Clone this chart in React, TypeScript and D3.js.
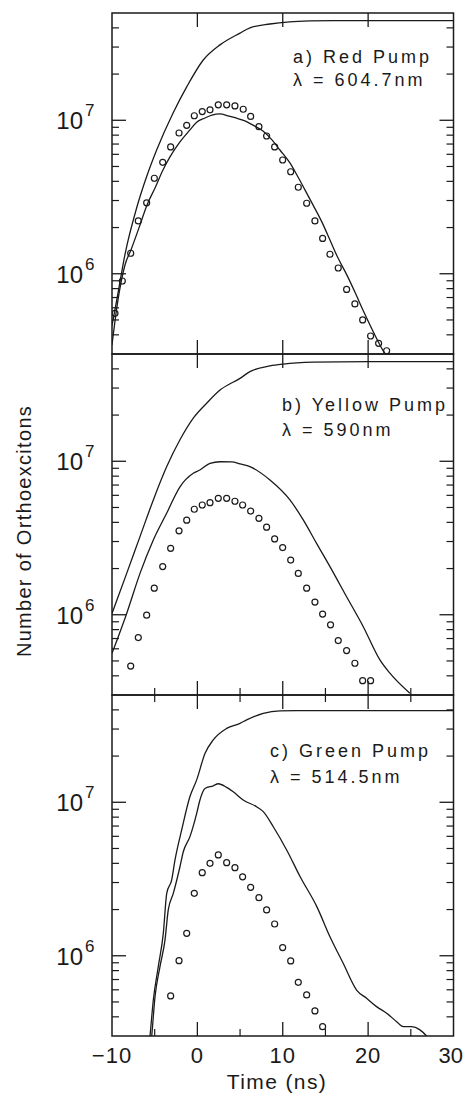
import React from "react";
import * as d3 from "d3";

const WIDTH = 464;
const HEIGHT = 1094;

// Shared axes
const X_DOMAIN: [number, number] = [-10, 30];
const Y_DOMAIN: [number, number] = [3e5, 5e7];
const X_MAJOR = [-10, 0, 10, 20, 30];
const X_MINOR = [-5, 5, 15, 25];
const X_LABELS = ["\u221210", "0", "10", "20", "30"];
const Y_DECADES = [6, 7];

// a) Red pump, 604.7 nm
const redGenT = [-10, -9.45, -8.45, -7.1, -5.94, -4.77, -2.83, -1.25, 0.69, 2.65, 5.0, 6.16, 8.5, 10.8, 13.2, 16, 30];
const redGenN = [4.6e5, 6.7e5, 1.36e6, 2.7e6, 4.3e6, 6.4e6, 1.12e7, 1.65e7, 2.47e7, 3.1e7, 3.7e7, 4.0e7, 4.24e7, 4.38e7, 4.44e7, 4.46e7, 4.46e7];
const redModelT = [-10, -9.3, -8.48, -7.78, -6.72, -5.9, -4.96, -4.03, -3.21, -2.04, -0.87, -0.05, 0.89, 1.71, 2.65, 3.58, 4.52, 5.57, 6.51, 7.68, 8.74, 9.67, 10.84, 11.66, 12.6, 13.54, 14.59, 15.53, 16.46, 17.52, 18.45, 19.39, 20.33, 21.26, 21.97];
const redModelN = [3.44e5, 6.75e5, 1.14e6, 1.43e6, 2.08e6, 2.81e6, 3.62e6, 4.74e6, 5.77e6, 7.22e6, 8.65e6, 9.75e6, 1.035e7, 1.08e7, 1.1e7, 1.07e7, 1.035e7, 9.9e6, 9.3e6, 8.5e6, 7.45e6, 6.4e6, 5.27e6, 4.4e6, 3.52e6, 2.81e6, 2.17e6, 1.66e6, 1.27e6, 9.8e5, 7.6e5, 5.8e5, 4.5e5, 3.54e5, 3.0e5];
const redObsT = [-9.65, -8.79, -7.81, -6.92, -5.94, -5.04, -4.06, -3.13, -2.15, -1.25, -0.36, 0.57, 1.48, 2.45, 3.43, 4.4, 5.37, 6.24, 7.21, 8.11, 9.05, 9.99, 10.93, 11.82, 12.8, 13.77, 14.67, 15.53, 16.5, 17.48, 18.45, 19.36, 20.29, 21.23, 22.17];
const redObsN = [5.52e5, 8.97e5, 1.36e6, 2.21e6, 2.9e6, 4.19e6, 5.32e6, 6.7e6, 8.26e6, 9.27e6, 1.07e7, 1.14e7, 1.17e7, 1.26e7, 1.26e7, 1.24e7, 1.18e7, 1.06e7, 9.08e6, 7.9e6, 6.7e6, 5.51e6, 4.62e6, 3.66e6, 2.88e6, 2.21e6, 1.7e6, 1.34e6, 1.09e6, 7.9e5, 6.36e5, 5.0e5, 3.93e5, 3.52e5, 3.15e5];

// b) Yellow pump, 590 nm
const yelGenT = [-10, -8.28, -6.72, -5.16, -3.6, -2.04, -0.48, 1.09, 2.65, 4.99, 6.16, 8.5, 10.06, 13.54, 19.98, 30];
const yelGenN = [1.02e6, 1.86e6, 3.23e6, 5.6e6, 9.2e6, 1.38e7, 1.91e7, 2.39e7, 2.91e7, 3.47e7, 3.84e7, 4.18e7, 4.3e7, 4.42e7, 4.46e7, 4.46e7];
const yelModelT = [-10, -8.28, -6.72, -5.16, -3.6, -2.04, -0.48, 0.3, 1.48, 2.65, 4.05, 4.99, 6.16, 8.5, 10.84, 12.4, 13.96, 15.53, 17.48, 19.43, 21.38, 22.55, 24.89];
const yelModelN = [5.6e5, 1.02e6, 1.86e6, 3.07e6, 4.58e6, 6.82e6, 8.35e6, 8.77e6, 9.7e6, 9.93e6, 9.9e6, 9.6e6, 9.22e6, 7.55e6, 5.6e6, 4.15e6, 2.92e6, 2.06e6, 1.31e6, 8.36e5, 5.08e5, 4.16e5, 3.08e5];
const yelObsT = [-7.81, -6.92, -5.94, -5.05, -4.06, -3.13, -2.15, -1.25, -0.36, 0.57, 1.48, 2.45, 3.43, 4.4, 5.3, 6.24, 7.21, 8.11, 9.05, 9.99, 10.93, 11.82, 12.8, 13.77, 14.67, 15.6, 16.5, 17.48, 18.45, 19.36, 20.29];
const yelObsN = [4.63e5, 7.1e5, 9.93e5, 1.49e6, 2.06e6, 2.71e6, 3.52e6, 4.13e6, 4.87e6, 5.19e6, 5.37e6, 5.74e6, 5.74e6, 5.49e6, 5.19e6, 4.74e6, 4.25e6, 3.72e6, 3.12e6, 2.74e6, 2.27e6, 1.86e6, 1.49e6, 1.21e6, 1.01e6, 8.6e5, 6.79e5, 5.84e5, 4.83e5, 3.72e5, 3.72e5];

// c) Green pump, 514.5 nm
const grnGenT = [-5.9, -5.55, -5.16, -4.58, -3.99, -3.59, -3.01, -2.62, -1.84, -0.87, -0.08, 0.89, 1.86, 3.43, 4.99, 5.77, 7.72, 9.67, 11.63, 30];
const grnGenN = [2.0e5, 3.0e5, 5.15e5, 8.5e5, 1.4e6, 2.55e6, 3.12e6, 4.21e6, 6.6e6, 1.09e7, 1.4e7, 2.08e7, 2.55e7, 3.03e7, 3.27e7, 3.44e7, 3.8e7, 3.94e7, 3.95e7, 3.95e7];
const grnModelT = [-5.7, -5.35, -4.96, -4.38, -3.79, -3.41, -2.82, -2.04, -1.65, -0.87, -0.08, 0.3, 0.89, 1.86, 2.45, 3.43, 4.2, 5.37, 6.94, 7.72, 8.89, 10.46, 12.04, 13.99, 15.53, 17.08, 18.65, 19.82, 20.99, 22.17, 23.34, 24.11, 25.09, 26.07, 26.85];
const grnModelN = [2.0e5, 3.0e5, 5.42e5, 8.5e5, 1.27e6, 1.99e6, 2.55e6, 3.8e6, 4.76e6, 5.97e6, 8.47e6, 1.035e7, 1.23e7, 1.28e7, 1.32e7, 1.25e7, 1.17e7, 1.035e7, 9.35e6, 8.69e6, 6.93e6, 4.89e6, 3.27e6, 2.09e6, 1.33e6, 8.93e5, 5.98e5, 5.28e5, 4.66e5, 4.22e5, 3.72e5, 3.45e5, 3.45e5, 3.29e5, 3.0e5];
const grnObsT = [-3.13, -2.15, -1.25, -0.36, 0.57, 1.48, 2.45, 3.43, 4.4, 5.3, 6.24, 7.21, 8.11, 9.05, 9.99, 10.93, 11.82, 12.8, 13.77, 14.67];
const grnObsN = [5.47e5, 9.29e5, 1.4e6, 2.55e6, 3.48e6, 4.0e6, 4.54e6, 4.04e6, 3.75e6, 3.27e6, 2.79e6, 2.39e6, 1.99e6, 1.61e6, 1.13e6, 9.25e5, 6.71e5, 5.56e5, 4.37e5, 3.45e5];

const PANEL_TITLES = ["a) Red Pump", "b) Yellow Pump", "c) Green Pump"];
const PANEL_LAMBDAS = ["\u03bb = 604.7nm", "\u03bb = 590nm", "\u03bb = 514.5nm"];

type Series = { t: number[]; n: number[] };
type Panel = {
  id: string;
  top: number;
  gen: Series;
  model: Series;
  obs: Series;
  title: string;
  lambda: string;
  textX: number;
  textY: number;
  lineGap: number;
  minorTop: boolean;
  minorBottom: boolean;
};

const LEFT = 112;
const RIGHT = 453.5;
const PANEL_H = 341;
const FONT = "'Liberation Sans', Arial, Helvetica, sans-serif";
const INK = "#1a1a1a";

const panels: Panel[] = [
  { id: "a", top: 13, gen: { t: redGenT, n: redGenN }, model: { t: redModelT, n: redModelN }, obs: { t: redObsT, n: redObsN }, title: PANEL_TITLES[0], lambda: PANEL_LAMBDAS[0], textX: 293, textY: 63, lineGap: 23, minorTop: false, minorBottom: false },
  { id: "b", top: 354, gen: { t: yelGenT, n: yelGenN }, model: { t: yelModelT, n: yelModelN }, obs: { t: yelObsT, n: yelObsN }, title: PANEL_TITLES[1], lambda: PANEL_LAMBDAS[1], textX: 282, textY: 411, lineGap: 25, minorTop: false, minorBottom: true },
  { id: "c", top: 695, gen: { t: grnGenT, n: grnGenN }, model: { t: grnModelT, n: grnModelN }, obs: { t: grnObsT, n: grnObsN }, title: PANEL_TITLES[2], lambda: PANEL_LAMBDAS[2], textX: 270, textY: 757, lineGap: 26, minorTop: true, minorBottom: true },
];

const x = d3.scaleLinear().domain(X_DOMAIN).range([LEFT, RIGHT]);

function yMinorValues(): number[] {
  const vals: number[] = [];
  for (let e = 5; e <= 7; e++) {
    for (let m = 2; m <= 9; m++) {
      const v = m * Math.pow(10, e);
      if (v > Y_DOMAIN[0] && v < Y_DOMAIN[1]) vals.push(v);
    }
  }
  return vals;
}

function PanelView({ p }: { p: Panel }) {
  const bottom = p.top + PANEL_H;
  const y = d3.scaleLog().domain(Y_DOMAIN).range([bottom, p.top]);
  const path = (s: Series) =>
    d3
      .line<[number, number]>()
      .x((d) => x(d[0]))
      .y((d) => y(d[1]))
      .curve(d3.curveMonotoneX)(s.t.map((t, i) => [t, s.n[i]] as [number, number])) || "";
  const clipId = `clip-${p.id}`;
  const MAJ = 14;
  const MIN = 7;
  return (
    <g>
      <defs>
        <clipPath id={clipId}>
          <rect x={LEFT} y={p.top} width={RIGHT - LEFT} height={PANEL_H} />
        </clipPath>
      </defs>
      <g clipPath={`url(#${clipId})`} fill="none" stroke={INK} strokeWidth={1.3}>
        <path d={path(p.gen)} />
        <path d={path(p.model)} />
        {p.obs.t.map((t, i) => (
          <circle key={i} cx={x(t)} cy={y(p.obs.n[i])} r={3} strokeWidth={1.2} />
        ))}
      </g>
      <rect x={LEFT} y={p.top} width={RIGHT - LEFT} height={PANEL_H} fill="none" stroke={INK} strokeWidth={1.5} />
      {Y_DECADES.map((e) => {
        const yy = y(Math.pow(10, e));
        return (
          <g key={`yd${e}`}>
            <line x1={LEFT} x2={LEFT + MAJ} y1={yy} y2={yy} stroke={INK} strokeWidth={1.3} />
            <line x1={RIGHT} x2={RIGHT - MAJ} y1={yy} y2={yy} stroke={INK} strokeWidth={1.3} />
            <text x={83} y={yy + 9} textAnchor="end" fontSize={24} fontFamily={FONT} fill={INK}>10</text>
            <text x={85} y={yy - 4} fontSize={17} fontFamily={FONT} fill={INK}>{e}</text>
          </g>
        );
      })}
      {yMinorValues().map((v, i) => {
        const yy = y(v);
        return (
          <g key={`ym${i}`}>
            <line x1={LEFT} x2={LEFT + MIN} y1={yy} y2={yy} stroke={INK} strokeWidth={1.2} />
            <line x1={RIGHT} x2={RIGHT - MIN} y1={yy} y2={yy} stroke={INK} strokeWidth={1.2} />
          </g>
        );
      })}
      {X_MAJOR.slice(1, -1).map((t) => (
        <g key={`xM${t}`}>
          <line x1={x(t)} x2={x(t)} y1={p.top} y2={p.top + MAJ} stroke={INK} strokeWidth={1.3} />
          <line x1={x(t)} x2={x(t)} y1={bottom} y2={bottom - MAJ} stroke={INK} strokeWidth={1.3} />
        </g>
      ))}
      {X_MINOR.map((t) => (
        <g key={`xm${t}`}>
          {p.minorTop && <line x1={x(t)} x2={x(t)} y1={p.top} y2={p.top + MIN} stroke={INK} strokeWidth={1.2} />}
          {p.minorBottom && <line x1={x(t)} x2={x(t)} y1={bottom} y2={bottom - MIN} stroke={INK} strokeWidth={1.2} />}
        </g>
      ))}
      <text x={p.textX} y={p.textY} fontSize={18} letterSpacing={3} fontFamily={FONT} fill={INK}>{p.title}</text>
      <text x={p.textX} y={p.textY + p.lineGap} fontSize={18} letterSpacing={3} fontFamily={FONT} fill={INK} style={{ whiteSpace: "pre" }}>{p.lambda}</text>
    </g>
  );
}

export default function App() {
  const lastBottom = panels[2].top + PANEL_H;
  return (
    <svg
      width={WIDTH}
      height={HEIGHT}
      viewBox={`0 0 ${WIDTH} ${HEIGHT}`}
      style={{ position: "absolute", left: 0, top: 0, background: "#fff" }}
    >
      <rect width={WIDTH} height={HEIGHT} fill="#fff" />
      {panels.map((p) => (
        <PanelView key={p.id} p={p} />
      ))}
      {X_MAJOR.map((t, i) => {
        const last = i === X_MAJOR.length - 1;
        return (
          <text
            key={`xl${t}`}
            x={last ? WIDTH - 1 : x(t)}
            y={lastBottom + 27}
            textAnchor={last ? "end" : "middle"}
            fontSize={22}
            letterSpacing={last ? 0 : 1}
            fontFamily={FONT}
            fill={INK}
          >
            {X_LABELS[i]}
          </text>
        );
      })}
      <text x={277} y={1089} textAnchor="middle" fontSize={21} letterSpacing={1.4} fontFamily={FONT} fill={INK}>
        Time (ns)
      </text>
      <text
        transform={`translate(31, 531) rotate(-90)`}
        textAnchor="middle"
        fontSize={20}
        letterSpacing={1.3}
        fontFamily={FONT}
        fill={INK}
      >
        Number of Orthoexcitons
      </text>
    </svg>
  );
}
